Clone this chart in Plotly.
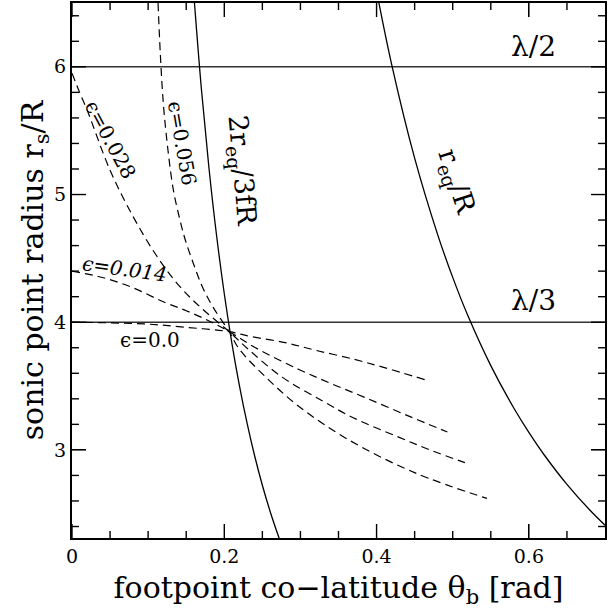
import plotly.graph_objects as go

# Footpoint co-latitude (rad) and sonic point radius r_s/R for each eccentricity
theta_e000 = [0.0, 0.05, 0.10, 0.15, 0.2065, 0.233, 0.28, 0.32, 0.37, 0.407, 0.4636]
rs_e000 = [4.00, 3.995, 3.985, 3.96, 3.926, 3.89, 3.84, 3.78, 3.71, 3.65, 3.55]

theta_e014 = [0.0, 0.04, 0.08, 0.12, 0.15, 0.18, 0.2065, 0.241, 0.298, 0.34, 0.385, 0.44, 0.493]
rs_e014 = [4.40, 4.35, 4.27, 4.16, 4.09, 4.01, 3.926, 3.80, 3.63, 3.52, 3.41, 3.27, 3.14]

theta_e028 = [0.0, 0.01, 0.02, 0.05, 0.08, 0.11, 0.14, 0.17, 0.2065, 0.233, 0.276, 0.33, 0.37, 0.429, 0.47, 0.516]
rs_e028 = [5.95, 5.80, 5.66, 5.19, 4.83, 4.53, 4.29, 4.11, 3.926, 3.78, 3.57, 3.38, 3.25, 3.10, 3.00, 2.90]

theta_e056 = [0.113, 0.116, 0.120, 0.126, 0.133, 0.141, 0.149, 0.160, 0.171, 0.185, 0.2065,
              0.2196, 0.2545, 0.298, 0.363, 0.4506, 0.545]
rs_e056 = [6.50, 6.10, 5.71, 5.35, 5.04, 4.82, 4.64, 4.45, 4.28, 4.12, 3.926,
           3.79, 3.57, 3.34, 3.08, 2.82, 2.62]

# Equatorial radius of the field line, r_eq/R
theta_req = [0.40, 0.42, 0.45, 0.48, 0.50, 0.52, 0.55, 0.58, 0.60, 0.62, 0.65, 0.68, 0.70]
rs_req = [6.594, 6.014, 5.285, 4.690, 4.351, 4.050, 3.660, 3.330, 3.137, 2.962, 2.730, 2.529, 2.410]

# 2 r_eq / 3fR
theta_2req = [0.16, 0.17, 0.18, 0.19, 0.20, 0.21, 0.22, 0.23, 0.24, 0.25, 0.26, 0.27, 0.275]
rs_2req = [6.566, 5.823, 5.200, 4.673, 4.223, 3.835, 3.500, 3.207, 2.950, 2.723, 2.522, 2.343, 2.260]

# Reference radii lambda/2 and lambda/3
lam_levels = [6.0, 4.0]
lam_labels = ["λ/2", "λ/3"]

# Axis ranges and tick positions
x_range = [0.0, 0.7]
y_range = [2.31, 6.5]
x_major = [0.0, 0.2, 0.4, 0.6]
x_minor = [0.05, 0.1, 0.15, 0.25, 0.3, 0.35, 0.45, 0.5, 0.55, 0.65]
y_major = [3, 4, 5, 6]
y_minor = [2.4, 2.6, 2.8, 3.2, 3.4, 3.6, 3.8, 4.2, 4.4, 4.6, 4.8, 5.2, 5.4, 5.6, 5.8, 6.2, 6.4]

eps_curves = [
    (theta_e000, rs_e000),
    (theta_e014, rs_e014),
    (theta_e028, rs_e028),
    (theta_e056, rs_e056),
]

SERIF = "DejaVu Serif"
W, H = 608, 609
M_L, M_R, M_T, M_B = 72, 1, 3, 71
PLOT_W = W - M_L - M_R
PLOT_H = H - M_T - M_B
# data units per pixel along each axis
DX = (x_range[1] - x_range[0]) / PLOT_W
DY = (y_range[1] - y_range[0]) / PLOT_H

fig = go.Figure()

for lvl in lam_levels:
    fig.add_trace(go.Scatter(x=x_range, y=[lvl, lvl], mode="lines",
                             line=dict(color="#333333", width=1.5), hoverinfo="skip"))

for th, rs in eps_curves:
    fig.add_trace(go.Scatter(x=th, y=rs, mode="lines", line_shape="spline",
                             line=dict(color="black", width=1.2, dash="8px,5px")))

fig.add_trace(go.Scatter(x=theta_req, y=rs_req, mode="lines", line_shape="spline",
                         line=dict(color="black", width=1.3)))
fig.add_trace(go.Scatter(x=theta_2req, y=rs_2req, mode="lines", line_shape="spline",
                         line=dict(color="black", width=1.3)))

# Inward tick marks on all four sides, one short segment per tick
tick_line = dict(color="black", width=1.4)
for vals, length in ((x_major, 14), (x_minor, 7)):
    d = length * DY
    for v in vals:
        for y0, y1 in ((y_range[0], y_range[0] + d), (y_range[1], y_range[1] - d)):
            fig.add_trace(go.Scatter(x=[v, v], y=[y0, y1], mode="lines",
                                     line=tick_line, hoverinfo="skip"))
for vals, length in ((y_major, 14), (y_minor, 7)):
    d = length * DX
    for v in vals:
        for x0, x1 in ((x_range[0], x_range[0] + d), (x_range[1], x_range[1] - d)):
            fig.add_trace(go.Scatter(x=[x0, x1], y=[v, v], mode="lines",
                                     line=tick_line, hoverinfo="skip"))

ann_font = dict(family=SERIF, size=28, color="black")
eps_font = dict(family=SERIF, size=20, color="black")
curve_font = dict(family=SERIF, size=27, color="black")

annotations = [
    dict(x=0.606, y=6.16, text=lam_labels[0], font=ann_font, textangle=0),
    dict(x=0.606, y=4.17, text=lam_labels[1], font=ann_font, textangle=0),
    dict(x=0.103, y=3.86, text="ϵ=0.0", font=eps_font, textangle=0),
    dict(x=0.069, y=4.42, text="<i>ϵ=0.014</i>", font=eps_font, textangle=8),
    dict(x=0.051, y=5.43, text="ϵ=0.028", font=eps_font, textangle=62),
    dict(x=0.144, y=5.40, text="ϵ=0.056", font=eps_font, textangle=80),
    dict(x=0.222, y=5.19, text="2r<sub>eq</sub>/3fR", font=curve_font, textangle=85),
    dict(x=0.503, y=5.10, text="r<sub>eq</sub>/R", font=curve_font, textangle=72),
]
for a in annotations:
    a.update(xref="x", yref="y", showarrow=False)

axis_common = dict(
    showline=True, linecolor="black", linewidth=2, mirror="ticks",
    ticks="inside", ticklen=14, tickwidth=1.4, tickcolor="black",
    showgrid=False, zeroline=False,
    tickfont=dict(family=SERIF, size=19, color="black"),
)

fig.update_layout(
    width=W, height=H,
    margin=dict(l=M_L, r=M_R, t=M_T, b=M_B),
    paper_bgcolor="white", plot_bgcolor="white",
    showlegend=False,
    annotations=annotations,
    xaxis=dict(range=x_range, tickmode="array", tickvals=x_major,
               ticktext=["0", "0.2", "0.4", "0.6"],
               title=dict(text="footpoint co−latitude θ<sub>b</sub> [rad]",
                          font=dict(family=SERIF, size=30, color="black"), standoff=12),
               **axis_common),
    yaxis=dict(range=y_range, tickmode="array", tickvals=y_major,
               ticktext=[str(v) for v in y_major],
               title=dict(text="sonic point radius r<sub>s</sub>/R",
                          font=dict(family=SERIF, size=30, color="black"), standoff=2),
               **axis_common),
)

fig.write_html("out.html")
